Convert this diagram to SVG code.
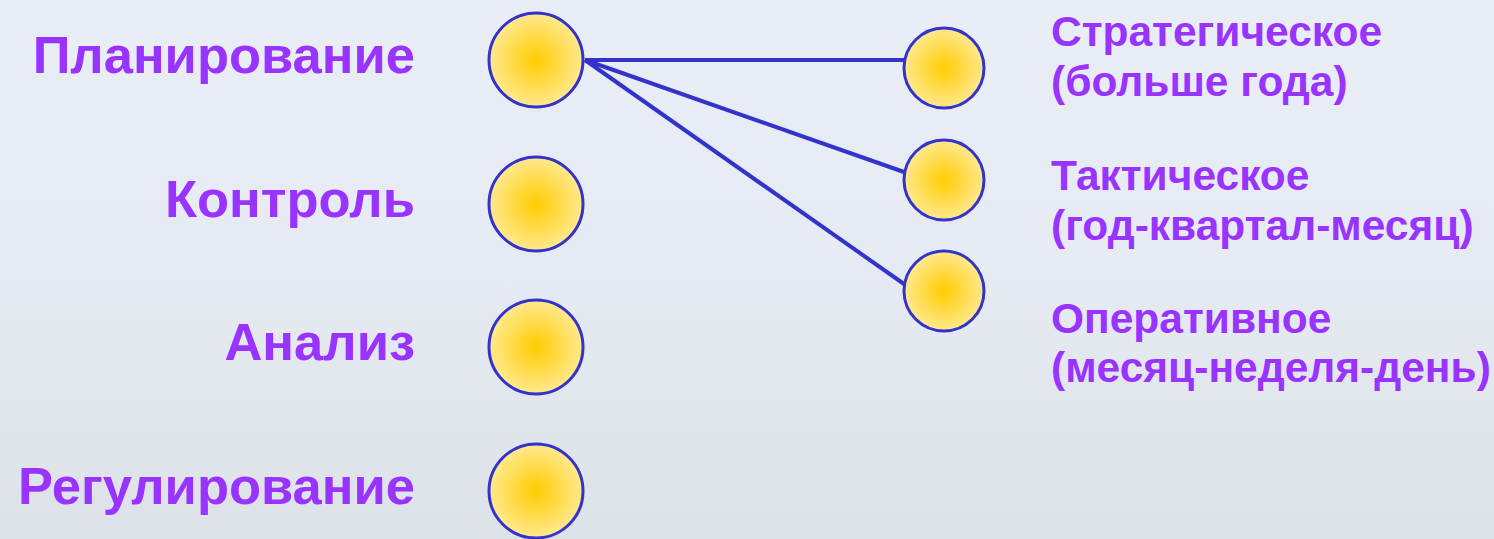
<svg xmlns="http://www.w3.org/2000/svg" width="1494" height="539" viewBox="0 0 1494 539">
  <defs>
    <linearGradient id="bg" x1="0" y1="0" x2="0" y2="1">
      <stop offset="0" stop-color="#e9eef6"/>
      <stop offset="0.5" stop-color="#e6eaf2"/>
      <stop offset="1" stop-color="#dde2e8"/>
    </linearGradient>
    <radialGradient id="sun" cx="0.5" cy="0.5" r="0.5">
      <stop offset="0" stop-color="#ffcc00"/>
      <stop offset="1" stop-color="#ffe98f"/>
    </radialGradient>
    <style>
      .lbl{font-family:"Liberation Sans",Arial,sans-serif;font-weight:bold;fill:#9933ff}
      .big{font-size:52.5px}
      .sm{font-size:42.5px}
      .c{fill:url(#sun);stroke:#3333cc;stroke-width:3}
      .edge{stroke:#3333cc;stroke-width:4;fill:none}
    </style>
  </defs>
  <rect width="1494" height="539" fill="url(#bg)"/>
  <g id="connectors">
    <line class="edge" x1="585" y1="60" x2="904" y2="60"/>
    <line class="edge" x1="585" y1="60" x2="904" y2="172"/>
    <line class="edge" x1="585" y1="60" x2="904" y2="284"/>
  </g>
  <g id="planirovanie">
    <circle class="c" cx="536" cy="60" r="47"/>
    <text class="lbl big" x="415" y="73" text-anchor="end">Планирование</text>
  </g>
  <g id="kontrol">
    <circle class="c" cx="536" cy="204" r="47"/>
    <text class="lbl big" x="415" y="217" text-anchor="end">Контроль</text>
  </g>
  <g id="analiz">
    <circle class="c" cx="536" cy="347" r="47"/>
    <text class="lbl big" x="415" y="360" text-anchor="end">Анализ</text>
  </g>
  <g id="regulirovanie">
    <circle class="c" cx="536" cy="491" r="47"/>
    <text class="lbl big" x="415" y="504" text-anchor="end">Регулирование</text>
  </g>
  <g id="strategicheskoe">
    <circle class="c" cx="944" cy="68" r="40"/>
    <text class="lbl sm" x="1051" y="46">Стратегическое</text>
    <text class="lbl sm" x="1051" y="96">(больше года)</text>
  </g>
  <g id="takticheskoe">
    <circle class="c" cx="944" cy="180" r="40"/>
    <text class="lbl sm" x="1051" y="190">Тактическое</text>
    <text class="lbl sm" x="1051" y="240">(год-квартал-месяц)</text>
  </g>
  <g id="operativnoe">
    <circle class="c" cx="944" cy="291" r="40"/>
    <text class="lbl sm" x="1051" y="333">Оперативное</text>
    <text class="lbl sm" x="1051" y="382">(месяц-неделя-день)</text>
  </g>
</svg>
